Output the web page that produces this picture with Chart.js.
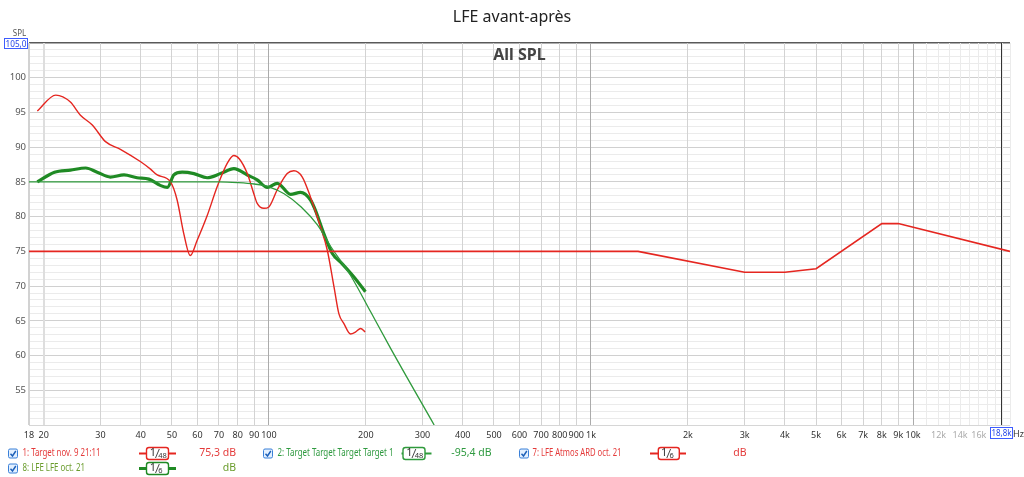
<!DOCTYPE html>
<html>
<head>
<meta charset="utf-8">
<script src="https://cdn.jsdelivr.net/npm/chart.js@4/dist/chart.umd.min.js"></script>
<style>
html,body{margin:0;padding:0;background:#fff;}
#wrap{width:1024px;height:477px;}
</style>
</head>
<body>
<div id="wrap"><canvas id="c" width="1024" height="477"></canvas></div>
<script>
// ---------- DATA ----------
const freqTicks = [18,20,30,40,50,60,70,80,90,100,200,300,400,500,600,700,800,900,1000,2000,3000,4000,5000,6000,7000,8000,9000,10000,11000,12000,13000,14000,15000,16000,17000,18000,19000,20000];
const freqTickLabels = ['18','20','30','40','50','60','70','80','90','100','200','300','400','500','600','700','800','900','1k','2k','3k','4k','5k','6k','7k','8k','9k','10k','','12k','','14k','','16k','','','',''];
const decadeTicks = [100,1000,10000];
const splTickLabels = [55,60,65,70,75,80,85,90,95,100];

// 1: Target nov. 9 21:11 (red target)
const targetRedFreq = [18,1400,3000,4000,5000,8000,9000,20000];
const targetRedDb   = [75,75,72,72,72.5,79,79,75];

// 2: Target Target Target Target 1 (green target)
const targetGreenFreq = [18,40,60,70,80,90,100,111.5,126,141.5,155.6,179,207,239,326];
const targetGreenDb   = [85,85,85,85,84.9,84.7,84.3,83.3,81.4,78.8,75.7,71.6,66.3,61,50];

// 7: LFE Atmos ARD oct. 21 (red measurement)
const measRedFreq = [19.1,21.8,24.2,26,28.3,31.1,34.6,40,43,45,49.5,51.9,54.4,57,59.9,64.4,69.1,74.3,77.8,81,85.7,89.8,92,96.5,100,106,114,119.6,127,134.7,144.7,151.8,159.3,165,171,179.3,186,192.7,199];
const measRedDb   = [95.2,97.5,96.5,94.6,93.2,90.8,89.7,87.9,86.8,86.0,85.0,82.4,77.6,74.4,76.6,80.2,84.3,87.7,88.8,88.3,86.2,83.3,81.9,81.2,81.4,83.8,86.2,86.6,85.7,82.8,78.5,75.2,69.9,66.0,64.6,63.1,63.4,63.9,63.4];

// 8: LFE LFE oct. 21 (green measurement)
const measGreenFreq = [19.1,21.6,24.2,27,29.3,32.2,35.5,39,42.4,46,48.4,50.7,53.8,58.5,64.3,70.8,77.9,85.7,92,98.9,106.2,116.8,125.4,134.7,139.5,148,157.4,169,183.7,199.4];
const measGreenDb   = [85.0,86.4,86.7,87.0,86.4,85.7,86.0,85.6,85.4,84.5,84.2,86.0,86.4,86.2,85.6,86.2,86.9,86.0,85.3,84.2,84.8,83.2,83.5,82.4,80.9,77.6,74.7,73.2,71.3,69.2];

const splMin = 50, splMax = 105;
const splGrid = [];
for (let v = splMin; v <= splMax; v++) splGrid.push(v);

// ---------- STYLE ----------
const FONT = '"Noto Sans", "Open Sans", "DejaVu Sans", sans-serif';
const RED = '#e52620';
const GREEN_T = '#2f9a3c';
const GREEN_M = '#1f8a24';

const pts = (f, d) => f.map((x, i) => ({x: x, y: d[i]}));
const align = p => Math.round(p - 0.5) + 0.5;

const legendItems = [
  {row:0, cbX:8.5,  text:'1: Target nov. 9 21:11',          tx:22.5,  tw:78,  color:'#e43a3a', lineC:RED,     lw:2, bx1:139, bx2:176, boxX:146.5, boxW:22, den:'48', val:'75,3 dB', vx:236},
  {row:0, cbX:263.5,text:'2: Target Target Target Target 1', tx:277.5, tw:116, color:'#2f9a40', lineC:GREEN_T, lw:2, bx1:401.5,bx2:431.5,boxX:403, boxW:22, den:'48', val:'-95,4 dB', vx:491.5},
  {row:0, cbX:519.5,text:'7: LFE Atmos ARD oct. 21',         tx:532.5, tw:89,  color:'#e43a3a', lineC:RED,     lw:2, bx1:650, bx2:686, boxX:658.3, boxW:21, den:'6', val:'dB', vx:746.5},
  {row:1, cbX:8.5,  text:'8: LFE LFE oct. 21',               tx:22.5,  tw:62.5,color:'#6a9c2c', lineC:GREEN_M, lw:3, bx1:139, bx2:176, boxX:146.5, boxW:22, den:'6', val:'dB', vx:236}
];

const overlay = {
  id: 'overlay',
  beforeDatasetsDraw(chart) {
    const {ctx, chartArea, scales} = chart;
    ctx.save();
    // decade grid lines, drawn continuous over the horizontal grid
    ctx.strokeStyle = '#ababab';
    ctx.lineWidth = 1;
    decadeTicks.forEach(v => {
      const x = align(scales.x.getPixelForValue(v));
      ctx.beginPath();
      ctx.moveTo(x, chartArea.top + 1);
      ctx.lineTo(x, chartArea.bottom);
      ctx.stroke();
    });
    // cursor at 18.8 kHz
    const xc = align(scales.x.getPixelForValue(18800));
    ctx.strokeStyle = '#333';
    ctx.beginPath();
    ctx.moveTo(xc, chartArea.top);
    ctx.lineTo(xc, chartArea.bottom);
    ctx.stroke();
    ctx.restore();
  },
  afterDraw(chart) {
    const {ctx, chartArea} = chart;
    ctx.save();
    // title
    ctx.fillStyle = '#222';
    ctx.font = '16px ' + FONT;
    ctx.textAlign = 'center';
    ctx.textBaseline = 'middle';
    ctx.fillText('LFE avant-après', 512, 17);
    // All SPL
    ctx.fillStyle = '#444';
    ctx.font = 'bold 16px ' + FONT;
    ctx.fillText('All SPL', (chartArea.left + chartArea.right) / 2, 55.5);
    // SPL axis label
    ctx.fillStyle = '#555';
    ctx.font = '8px ' + FONT;
    ctx.fillText('SPL', 19.5, 33.5);
    // 105,0 box
    ctx.fillStyle = '#fff';
    ctx.fillRect(4.5, 38.5, 23, 10);
    ctx.strokeStyle = '#3d5cff';
    ctx.lineWidth = 1;
    ctx.strokeRect(4.5, 38.5, 23, 10);
    ctx.fillStyle = '#2444e8';
    ctx.font = '9.5px ' + FONT;
    ctx.fillText('105,0', 16, 44, 21);
    // 18,8k box
    ctx.fillStyle = '#fff';
    ctx.fillRect(990.5, 427.5, 22, 11);
    ctx.strokeStyle = '#3d5cff';
    ctx.strokeRect(990.5, 427.5, 22, 11);
    ctx.fillStyle = '#2444e8';
    ctx.fillText('18,8k', 1001.5, 433.5, 20);
    ctx.fillStyle = '#333';
    ctx.font = '9px ' + FONT;
    ctx.textAlign = 'left';
    ctx.fillText('Hz', 1013, 434);

    // legend
    legendItems.forEach(it => {
      const cy = it.row === 0 ? 453.5 : 468.5;
      // checkbox
      ctx.fillStyle = '#e3f0ff';
      ctx.strokeStyle = '#3a80d8';
      ctx.lineWidth = 1;
      ctx.beginPath();
      ctx.roundRect(it.cbX, cy - 4.5, 9, 9, 1.5);
      ctx.fill();
      ctx.stroke();
      ctx.strokeStyle = '#1c5fb8';
      ctx.lineWidth = 1.4;
      ctx.beginPath();
      ctx.moveTo(it.cbX + 2, cy + 0.2);
      ctx.lineTo(it.cbX + 4, cy + 2.5);
      ctx.lineTo(it.cbX + 7.3, cy - 2.5);
      ctx.stroke();
      // label text
      ctx.fillStyle = it.color;
      ctx.font = '10.5px ' + FONT;
      ctx.textAlign = 'left';
      ctx.textBaseline = 'middle';
      ctx.fillText(it.text, it.tx, cy, it.tw);
      // smoothing badge
      ctx.strokeStyle = it.lineC;
      ctx.lineWidth = it.lw;
      ctx.beginPath();
      ctx.moveTo(it.bx1, cy);
      ctx.lineTo(it.bx2, cy);
      ctx.stroke();
      ctx.fillStyle = '#fff';
      ctx.lineWidth = 1.4;
      ctx.beginPath();
      ctx.roundRect(it.boxX, cy - 6, it.boxW, 12, 2.5);
      ctx.fill();
      ctx.stroke();
      ctx.fillStyle = '#333';
      const cx = it.boxX + it.boxW / 2;
      ctx.font = '11px ' + FONT;
      ctx.textAlign = 'right';
      ctx.fillText('1', cx - 1.5, cy - 0.5);
      ctx.strokeStyle = '#333';
      ctx.lineWidth = 0.9;
      ctx.beginPath();
      ctx.moveTo(cx - 2, cy + 4.5);
      ctx.lineTo(cx + 1.8, cy - 4.5);
      ctx.stroke();
      ctx.font = '7.5px ' + FONT;
      ctx.textAlign = 'left';
      ctx.fillText(it.den, cx + 0.8, cy + 2.2);
      // value text
      ctx.fillStyle = it.color;
      ctx.font = '10.5px ' + FONT;
      ctx.textAlign = 'right';
      ctx.fillText(it.val, it.vx, cy);
    });
    ctx.restore();
  }
};

new Chart(document.getElementById('c'), {
  type: 'line',
  data: {
    datasets: [
      {label:'1: Target nov. 9 21:11', data: pts(targetRedFreq, targetRedDb), borderColor: RED, borderWidth: 1.6, pointRadius: 0, tension: 0, fill: false},
      {label:'2: Target Target Target Target 1', data: pts(targetGreenFreq, targetGreenDb), borderColor: GREEN_T, borderWidth: 1.3, pointRadius: 0, cubicInterpolationMode: 'monotone', fill: false},
      {label:'7: LFE Atmos ARD oct. 21', data: pts(measRedFreq, measRedDb), borderColor: RED, borderWidth: 1.4, pointRadius: 0, cubicInterpolationMode: 'monotone', fill: false},
      {label:'8: LFE LFE oct. 21', data: pts(measGreenFreq, measGreenDb), borderColor: GREEN_M, borderWidth: 3.2, pointRadius: 0, cubicInterpolationMode: 'monotone', fill: false}
    ]
  },
  options: {
    responsive: false,
    animation: false,
    devicePixelRatio: 1,
    layout: {padding: {left: 0, right: 14, top: 43, bottom: 32}},
    plugins: {legend: {display: false}, tooltip: {enabled: false}, title: {display: false}},
    scales: {
      x: {
        type: 'logarithmic',
        min: 18, max: 20000,
        afterBuildTicks: s => { s.ticks = freqTicks.map(v => ({value: v})); },
        afterFit: s => { s.height = 20; },
        border: {display: false},
        grid: {
          z: 0,
          drawTicks: false,
          color: c => {
            const v = c.tick ? c.tick.value : 0;
            if (decadeTicks.includes(v)) return '#ababab';
            if (v === 18) return '#d2d2d2';
            if (v === 20) return '#dedede';
            if (v > 10000) return '#ebebeb';
            return '#d3d3d3';
          },
          lineWidth: c => {
            const v = c.tick ? c.tick.value : 0;
            return (v === 18 || v === 20) ? 2 : 1;
          }
        },
        ticks: {
          autoSkip: false, maxRotation: 0, minRotation: 0, padding: 5,
          font: {size: 9, family: FONT},
          color: c => (c.tick && c.tick.value > 10000) ? '#ababab' : '#333',
          callback: (v) => { const i = freqTicks.indexOf(v); return i >= 0 ? freqTickLabels[i] : ''; }
        }
      },
      y: {
        type: 'linear',
        min: splMin, max: splMax,
        afterBuildTicks: s => { s.ticks = splGrid.map(v => ({value: v})); },
        afterFit: s => { s.width = 29; },
        border: {display: false},
        grid: {
          z: -1,
          drawTicks: false,
          color: c => {
            const v = c.tick ? c.tick.value : 0;
            if (v === splMax) return '#5a5a5a';
            if (v === splMin) return '#d6d6d6';
            if (v % 5 === 0) return '#d0d0d0';
            return '#ebebeb';
          },
          lineWidth: c => (c.tick && c.tick.value === splMax) ? 1.5 : 1
        },
        ticks: {
          autoSkip: false, padding: 3,
          font: {size: 9.5, family: FONT},
          color: '#555',
          callback: v => splTickLabels.includes(v) ? String(v) : ''
        }
      }
    }
  },
  plugins: [overlay]
});
</script>
</body>
</html>
